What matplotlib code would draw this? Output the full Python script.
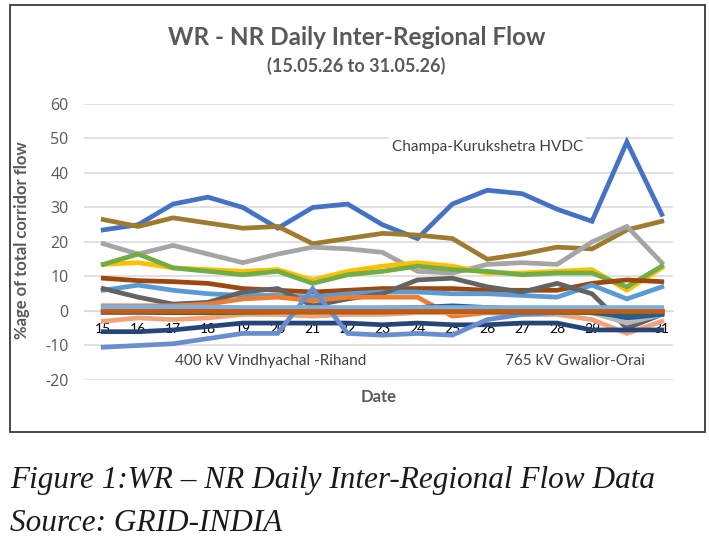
import matplotlib

matplotlib.use("Agg")
import matplotlib.pyplot as plt
from matplotlib.patches import Rectangle

# WR - NR daily inter-regional flow, % of total corridor flow

days = list(range(15, 32))
y_ticks = list(range(-20, 61, 10))

champa_kurukshetra = [23.5, 25, 31, 33, 30, 24, 30, 31, 25, 21, 31, 35, 34, 29.5, 26, 49, 28]
gold_line = [26.5, 24.5, 27, 25.5, 24, 24.5, 19.5, 21, 22.5, 22, 21, 15, 16.5, 18.5, 18, 23.5, 26]
gray_line = [19.5, 16.5, 19, 16.5, 14, 16.5, 18.5, 18, 17, 11.5, 11, 13.5, 14, 13.5, 20, 24.5, 14]
green_line = [13.5, 16.5, 12.5, 11.5, 10.5, 11.5, 8, 10.5, 11.5, 13, 12, 11.5, 10.5, 11, 11, 7, 13]
yellow_line = [13.5, 14, 12.5, 12, 11.5, 12, 9, 11.5, 13, 14, 13, 11, 11, 11.5, 12, 6, 12.5]
brown_line = [9.5, 8.8, 8.5, 8, 6.5, 6, 5.5, 6, 6.5, 6.5, 6.5, 6, 6, 6, 8, 9, 8.5]
blue_line = [6, 7.5, 6, 5, 4.5, 4.5, 4, 5, 5.5, 5.5, 5, 5, 4.5, 4, 7.5, 3.5, 7]
darkgray_line = [6.5, 4, 2, 2.5, 5.5, 6.5, 1.5, 3.5, 5, 9, 9.5, 7, 5.5, 8, 5, -5, -1]
orange_line = [1.5, 1.5, 1.5, 2, 3.5, 4, 3, 4, 4, 4, -1.5, -0.5, -0.5, -0.3, -0.5, -1.5, -1]
salmon_line = [-3, -2, -2.5, -2, -1, -1, -1.5, -1, -1, -0.5, -0.5, -0.5, -1, -1, -2.5, -6.5, -3]
navy_line = [-6, -6, -5.5, -4.5, -3.5, -3.5, -3.5, -3.5, -4, -3.5, -4, -4, -3.5, -3.5, -5.5, -5.5, -5.5]
vindhyachal_rihand = [-10.5, -10, -9.5, -8, -6.5, -6.5, 6.5, -6.5, -7, -6.5, -7, -2.5, -1, -0.5, -0.3, -0.3, -0.3]
gwalior_orai = [-0.3, -0.3, -0.2, -0.2, 0, 0.2, 0.3, 0.5, 0.8, 1, 1.5, 1, 0.5, 0.3, 0, -2, -1]
darkgreen_line = [-0.4, -0.4, -0.5, -0.5, -0.4, -0.3, -0.3, -0.3, -0.3, -0.2, -0.2, -0.3, -0.3, -0.3, -0.5, -1.5, -0.5]
lightgray_line = [0, 0, 0, 0, 0, 0, 0, 0, 0, 0, 0, 0, 0, 0, -0.5, -3.5, -1]
lightblue_line = [1.2, 1.2, 1.2, 1.1, 1, 1, 1, 1, 1, 1, 1, 1, 1, 1, 1, 1, 1]
zero_line = [0] * 17

series = [
    (champa_kurukshetra, "#4472C4"),
    (gold_line, "#9E7B2F"),
    (gray_line, "#A5A5A5"),
    (yellow_line, "#FFC000"),
    (green_line, "#70AD47"),
    (brown_line, "#9E480E"),
    (blue_line, "#5B9BD5"),
    (darkgray_line, "#636363"),
    (orange_line, "#ED7D31"),
    (salmon_line, "#F4A27A"),
    (navy_line, "#264478"),
    (vindhyachal_rihand, "#698ED0"),
    (lightgray_line, "#B7B7B7"),
    (darkgreen_line, "#43682B"),
    (gwalior_orai, "#255E91"),
    (lightblue_line, "#7CAFDD"),
    (zero_line, "#C55A11"),
]

plt.rcParams["font.family"] = ["Lato", "DejaVu Sans"]
grey = "#595959"
tick_font = ["Open Sans", "DejaVu Sans"]

fig = plt.figure(figsize=(7.09, 5.57), dpi=100)
fig.patches.append(Rectangle((0.014, 0.224), 0.98, 0.767, transform=fig.transFigure,
                             fill=False, edgecolor="#3a3a3a", linewidth=1.3))

ax = fig.add_axes([0.1185, 0.3178, 0.8307, 0.4955])
for vals, col in series:
    ax.plot(days, vals, color=col, linewidth=3.4, solid_joinstyle="miter", zorder=3)

ax.set_ylim(-20, 60)
ax.set_xlim(14.45, 31.32)
ax.set_yticks(y_ticks, labels=[str(v) for v in y_ticks], fontfamily=tick_font,
              fontsize=11.5, color=grey)
ax.set_xticks(days, labels=[str(d) for d in days], fontfamily=tick_font,
              fontsize=11.5, color=grey, zorder=1)
ax.grid(axis="y", color="#D9D9D9", linewidth=1.1, zorder=0)
for s in ["top", "right", "left"]:
    ax.spines[s].set_visible(False)
ax.spines["bottom"].set_position(("data", 0))
ax.spines["bottom"].set_color("#D9D9D9")
ax.tick_params(axis="both", length=0)
ax.tick_params(axis="x", pad=9)
ax.tick_params(axis="y", pad=11)

ax.text(22.9, -24.8, "Date", ha="center", va="center", color=grey,
        fontsize=12, fontweight="bold")
fig.text(0.031, 0.569, "%age of total corridor flow", rotation=90, ha="center",
         va="center", color=grey, fontsize=12, fontweight="bold")

fig.text(0.503, 0.932, "WR - NR Daily Inter-Regional Flow", ha="center", va="center",
         color=grey, fontsize=17.5, fontweight="bold")
fig.text(0.503, 0.881, "(15.05.26 to 31.05.26)", ha="center", va="center",
         color=grey, fontsize=13, fontweight="bold")

ax.text(26.0, 47.5, "Champa-Kurukshetra HVDC", ha="center", va="center", color="#404040",
        fontsize=11, zorder=2, bbox=dict(facecolor="white", edgecolor="none", pad=2))
ax.text(19.8, -14.5, "400 kV Vindhyachal -Rihand", ha="center", va="center",
        color="#404040", fontsize=11)
ax.text(28.5, -14.5, "765 kV Gwalior-Orai", ha="center", va="center",
        color="#404040", fontsize=11)

fig.text(0.014, 0.138, "Figure 1:WR \u2013 NR Daily Inter-Regional Flow Data", ha="left",
         va="center", fontsize=22.5, style="italic", family="Liberation Serif", color="#1a1a1a")
fig.text(0.014, 0.061, "Source: GRID-INDIA", ha="left", va="center", fontsize=22.5,
         style="italic", family="Liberation Serif", color="#1a1a1a")

fig.savefig("out.png", dpi=100)
